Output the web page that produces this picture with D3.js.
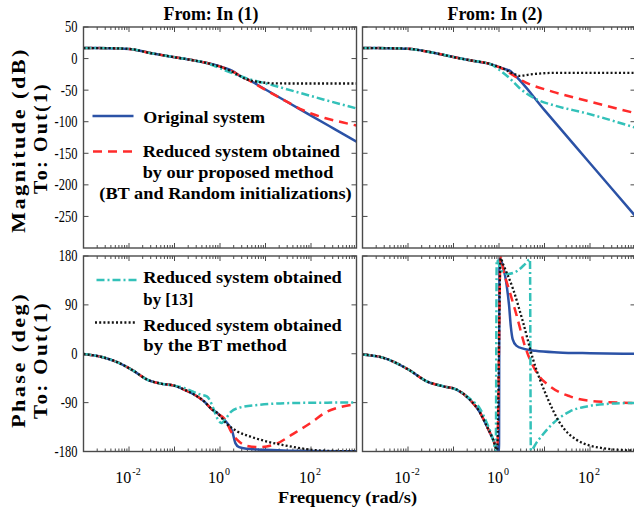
<!DOCTYPE html>
<html>
<head>
<meta charset="utf-8">
<script src="https://cdn.jsdelivr.net/npm/d3@7"></script>
<style>
body { margin: 0; background: #fff; }
text { font-family: "Liberation Serif", "DejaVu Serif", serif; }
</style>
</head>
<body>
<div id="chart-area"></div>
<script>
// ---- data: [frequency (rad/s), value] ----
// magnitude (dB), From In(1)
let magOrig1 = [[0.001,16.7],[0.0032,16.5],[0.01,15.3],[0.029,8.9],[0.093,2.5],[0.257,-2.7],[0.708,-9.5],
  [1.122,-13.6],[1.585,-17.2],[1.995,-20.8],[2.82,-28],[3.98,-32.6],[10,-49],[31.6,-69.6],[100,-90.3],[316,-110.9],[1000,-131.5]];
let magRed1 = [[0.001,16.7],[0.0032,16.5],[0.01,15.3],[0.029,8.9],[0.093,2.5],[0.257,-2.7],[0.708,-9.5],
  [1.122,-14],[1.585,-18],[1.995,-21.5],[2.82,-27.5],[3.98,-33],[10,-49.5],[31.6,-69.5],[63.1,-81],[100,-87],[200,-94],[398,-99.5],[1000,-106]];
let magCyan1 = [[0.001,16.7],[0.0032,16.5],[0.01,15.3],[0.029,8.9],[0.093,2.5],[0.257,-2.7],[0.5,-7],
  [0.851,-13.2],[1.175,-17.4],[1.95,-23.7],[3.89,-31.5],[6.46,-35.8],[15.8,-43],[34.7,-50],[186,-64.7],[1000,-79]];
let magBlack1 = [[0.001,16.7],[0.0032,16.5],[0.01,15.3],[0.029,8.9],[0.093,2.5],[0.257,-2.7],[0.708,-9.5],
  [1.122,-14],[1.995,-22],[3.89,-33],[8.91,-37.9],[17.8,-39.4],[100,-39.5],[1000,-39.5]];

// magnitude (dB), From In(2)
let magOrig2 = [[0.001,16.7],[0.0032,16.5],[0.01,15.5],[0.03,10.4],[0.083,3.6],[0.229,-2.7],[0.631,-8.5],
  [1.23,-15.8],[1.738,-19.5],[2.04,-23.7],[10,-81.7],[100,-165.7],[1000,-249.7]];
let magRed2 = [[0.001,16.7],[0.0032,16.5],[0.01,15.5],[0.03,10.4],[0.083,3.6],[0.229,-2.7],[0.631,-8.5],
  [1.23,-16.5],[2.04,-26.5],[3.39,-35.8],[15.5,-52.7],[85.1,-66.9],[1000,-86.5]];
let magCyan2 = [[0.001,16.7],[0.0032,16.5],[0.01,15.5],[0.03,10.4],[0.083,3.6],[0.229,-2.7],[0.631,-8.5],
  [1.047,-18.5],[1.738,-31.5],[2.88,-47.3],[6.76,-64.7],[15.5,-73.7],[85.1,-86.8],[1000,-109.5]];
let magBlack2 = [[0.001,16.7],[0.0032,16.5],[0.01,15.5],[0.03,10.4],[0.083,3.6],[0.229,-2.7],[0.631,-8.5],
  [1.23,-15.8],[2.04,-23.7],[2.88,-27.4],[4.79,-25.2],[15.5,-22.7],[100,-22.5],[1000,-22.5]];

// phase (deg), From In(1)
let phOrig1 = [[0.001,-0.5],[0.0024,-5.6],[0.0055,-15.5],[0.0129,-32],[0.025,-47.6],[0.05,-55],[0.098,-58.7],[0.162,-66],[0.269,-75],[0.447,-87.7],[0.676,-103],
  [0.871,-109],[1.445,-127.8],[1.862,-143],[2.19,-165],[2.63,-172],[3.98,-175],[10,-177],[31.6,-178.5],[1000,-179.5]];
let phRed1 = [[0.001,-0.5],[0.0024,-5.6],[0.0055,-15.5],[0.0129,-32],[0.025,-47.6],[0.05,-55],[0.098,-58.7],[0.162,-66],[0.269,-75],[0.447,-87.7],[0.676,-103],
  [0.871,-110],[1.318,-122],[1.738,-143],[2.4,-158.7],[3.98,-169.8],[7.59,-172],[18.2,-165],[39.8,-148],[100,-127],[200,-109],[501,-97],[1000,-93]];
let phCyan1 = [[0.001,-0.5],[0.0024,-5.6],[0.0055,-15.5],[0.0129,-32],[0.025,-47.6],[0.05,-55],[0.098,-58.7],
  [0.162,-63],[0.257,-70],[0.38,-75.4],[0.513,-78.5],[0.603,-86],[0.708,-100],[0.912,-122],[1.072,-127.5],[1.318,-120],[1.738,-107],[2.75,-99],[7.59,-94],[40.7,-90.7],[1000,-89.8]];
let phBlack1 = [[0.001,-0.5],[0.0024,-5.6],[0.0055,-15.5],[0.0129,-32],[0.025,-47.6],[0.05,-55],[0.098,-58.7],[0.162,-66],[0.269,-75],[0.447,-87.7],[0.676,-103],
  [0.871,-109],[1.445,-130],[2.4,-143],[4.68,-152.6],[11,-161.8],[25.7,-168.5],[58.9,-174],[195,-178.5],[1000,-179.5]];

// phase (deg), From In(2)
let phOrig2 = [[0.001,-1.3],[0.0029,-7.5],[0.0102,-29],[0.0257,-50.7],[0.06,-60],[0.117,-66],[0.229,-84.6],[0.38,-108],[0.537,-133],[0.741,-158],
  [0.93,-175],[1,-180],[1.023,175],[1.23,160],[1.479,125],[1.66,90],[1.82,50],[1.995,27],[2.4,15],[3.55,9],[6.31,5.5],[20,2.5],[100,1],[1000,0]];
let phRed2 = [[0.001,-1.3],[0.0029,-7.5],[0.0102,-29],[0.0257,-50.7],[0.06,-60],[0.117,-66],[0.229,-84.6],[0.38,-108],[0.537,-133],[0.741,-158],
  [0.912,-176],[1.084,178],[1.23,156],[1.738,113],[2.455,69.6],[3.72,14],[6.76,-35],[13.2,-60],[36.3,-78.5],[141,-87.8],[1000,-90.7]];
let phCyan2 = [[0.001,-1.3],[0.0029,-7.5],[0.0102,-29],[0.0257,-50.7],[0.06,-60],[0.117,-66],
  [0.229,-83],[0.38,-101],[0.537,-127],[0.741,-158],[0.851,-178],[0.891,173],[1.047,160],[1.23,150],[1.585,147],[2.455,152],[3.72,165],[4.79,174],
  [5.01,-178],[6.76,-163],[15.5,-128],[36.3,-106],[85.1,-97],[275,-92],[1000,-90.5]];
let phBlack2 = [[0.001,-1.3],[0.0029,-7.5],[0.0102,-29],[0.0257,-50.7],[0.06,-60],[0.117,-66],[0.229,-84.6],[0.38,-108],[0.537,-133],[0.741,-158],
  [0.912,-177],[1.084,176],[1.23,165],[2.04,119],[3.39,57.4],[5.62,-10.6],[11.2,-78.5],[21.9,-127.8],[51.3,-158.7],[195,-174],[1000,-178.5]];

let magTicks = [50, 0, -50, -100, -150, -200, -250];
let phTicks = [180, 90, 0, -90, -180];
let freqLabels = [1e-2, 1e0, 1e2];
let freqExp = ["-2", "0", "2"];
let titles = ["From: In (1)", "From: In (2)"];

// ---- drawing ----
let svg = d3.select("#chart-area").append("svg")
  .attr("width", 634)
  .attr("height", 510);

let frameColor = "#4a4a4a";
let colors = { orig: "#2b52a6", red: "#ff2b2b", cyan: "#33c1b9", black: "#141414" };
let dashes = { orig: null, red: "9,6", cyan: "8,3,2,3", black: "2,2.2" };

let xs = [
  d3.scaleLog().domain([1e-3, 1e3]).range([83.5, 356.5]),
  d3.scaleLog().domain([1e-3, 1e3]).range([362.5, 635.5])
];
let yMag = d3.scaleLinear().domain([-300, 50]).range([248, 27]);
let yPh = d3.scaleLinear().domain([-180, 180]).range([451.5, 256]);

let panels = [
  { c: 0, y: yMag, ticks: magTicks, series: { orig: magOrig1, red: magRed1, cyan: magCyan1, black: magBlack1 }, bottom: false },
  { c: 1, y: yMag, ticks: magTicks, series: { orig: magOrig2, red: magRed2, cyan: magCyan2, black: magBlack2 }, bottom: false },
  { c: 0, y: yPh, ticks: phTicks, series: { orig: phOrig1, red: phRed1, cyan: phCyan1, black: phBlack1 }, bottom: true },
  { c: 1, y: yPh, ticks: phTicks, series: { orig: phOrig2, red: phRed2, cyan: phCyan2, black: phBlack2 }, bottom: true }
];

function squeeze(sel, k) {
  sel.each(function () {
    let len = this.getComputedTextLength();
    d3.select(this).attr("textLength", len * k).attr("lengthAdjust", "spacingAndGlyphs");
  });
}

panels.forEach((p, i) => {
  let x = xs[p.c], y = p.y;
  let x0 = x.range()[0], x1 = x.range()[1], y0 = y.range()[1], y1 = y.range()[0];
  let g = svg.append("g");

  g.append("clipPath").attr("id", "clip" + i)
    .append("rect").attr("x", x0).attr("y", y0).attr("width", x1 - x0).attr("height", y1 - y0);

  // ticks (inside, all four sides)
  let allTicks = x.ticks();
  let major = allTicks.filter(d => Math.abs(Math.log10(d) - Math.round(Math.log10(d))) < 1e-6);
  let minor = allTicks.filter(d => major.indexOf(d) < 0);
  [[y1, -1], [y0, 1]].forEach(([yy, dir]) => {
    g.selectAll(null).data(minor).enter().append("line")
      .attr("x1", d => x(d)).attr("x2", d => x(d))
      .attr("y1", yy).attr("y2", yy + dir * 3)
      .attr("stroke", frameColor).attr("stroke-width", 1);
    g.selectAll(null).data(major).enter().append("line")
      .attr("x1", d => x(d)).attr("x2", d => x(d))
      .attr("y1", yy).attr("y2", yy + dir * 5)
      .attr("stroke", frameColor).attr("stroke-width", 1);
  });
  [[x0, 1], [x1, -1]].forEach(([xx, dir]) => {
    g.selectAll(null).data(p.ticks).enter().append("line")
      .attr("x1", xx).attr("x2", xx + dir * 5)
      .attr("y1", d => y(d)).attr("y2", d => y(d))
      .attr("stroke", frameColor).attr("stroke-width", 1);
  });

  // curves
  let line = d3.line()
    .x(d => x(d[0]))
    .y(d => y(d[1]))
    .curve(d3.curveMonotoneX);
  let lines = g.append("g").attr("clip-path", "url(#clip" + i + ")");
  ["orig", "red", "cyan", "black"].forEach(k => {
    lines.append("path")
      .datum(p.series[k])
      .attr("d", line)
      .attr("fill", "none")
      .attr("stroke", colors[k])
      .attr("stroke-width", k === "black" ? 2.3 : 2.5)
      .attr("stroke-dasharray", dashes[k]);
  });

  // frame
  g.append("rect")
    .attr("x", x0).attr("y", y0).attr("width", x1 - x0).attr("height", y1 - y0)
    .attr("fill", "none").attr("stroke", frameColor).attr("stroke-width", 1.4);

  // y tick labels on the left column only
  if (p.c === 0) {
    let lab = g.selectAll(null).data(p.ticks).enter().append("text")
      .attr("x", x0 - 6).attr("y", d => y(d))
      .attr("dy", "0.34em")
      .attr("text-anchor", "end")
      .attr("font-size", 16)
      .text(d => d);
    squeeze(lab, 0.78);
  }

  // x tick labels under the bottom row: 10 with a raised exponent
  if (p.bottom) {
    freqLabels.forEach((f, j) => {
      let t = g.append("text")
        .attr("x", x(f) - 1).attr("y", 483)
        .attr("text-anchor", "middle")
        .attr("font-size", 16);
      t.append("tspan").text("10");
      t.append("tspan").attr("dx", 1).attr("dy", -8).attr("font-size", 10).text(freqExp[j]);
    });
  }
});

// titles
titles.forEach((t, i) => {
  svg.append("text")
    .attr("x", i === 0 ? 211 : 495).attr("y", 19.5)
    .attr("text-anchor", "middle")
    .attr("font-size", 18).attr("font-weight", "bold")
    .attr("textLength", 95).attr("lengthAdjust", "spacingAndGlyphs")
    .text(t);
});

// axis labels
function rotLabel(str, x, y, len) {
  svg.append("text")
    .attr("transform", "translate(" + x + "," + y + ") rotate(-90)")
    .attr("text-anchor", "middle")
    .attr("font-size", 18).attr("font-weight", "bold")
    .attr("letter-spacing", 2)
    .attr("textLength", len).attr("lengthAdjust", "spacingAndGlyphs")
    .text(str);
}
rotLabel("Magnitude (dB)", 25, 140, 186);
rotLabel("To: Out(1)", 47, 138, 112);
rotLabel("Phase (deg)", 25, 360, 136);
rotLabel("To: Out(1)", 47, 360, 118);

svg.append("text")
  .attr("x", 347.5).attr("y", 502.5)
  .attr("text-anchor", "middle")
  .attr("font-size", 17).attr("font-weight", "bold")
  .attr("textLength", 139).attr("lengthAdjust", "spacingAndGlyphs")
  .text("Frequency (rad/s)");

// legends
let legendRows = [
  { k: "orig", ly: 116, x1: 92.5, x2: 133.5 },
  { k: "red", ly: 151.5, x1: 93, x2: 133.5 },
  { k: "cyan", ly: 280, x1: 96.5, x2: 137 },
  { k: "black", ly: 322.5, x1: 95, x2: 137 }
];
legendRows.forEach(r => {
  svg.append("line")
    .attr("x1", r.x1).attr("x2", r.x2).attr("y1", r.ly).attr("y2", r.ly)
    .attr("stroke", colors[r.k]).attr("stroke-width", 2.7)
    .attr("stroke-dasharray", dashes[r.k]);
});
let legendText = [
  ["Original system", 143.3, 122.5, 121.7],
  ["Reduced system obtained", 142.7, 157.3, 197.3],
  ["by our proposed method", 142.7, 178.2, 190.6],
  ["(BT and Random initializations)", 99.3, 199.3, 252.4],
  ["Reduced system obtained", 143.3, 283.3, 198.4],
  ["by [13]", 143.3, 305, 50],
  ["Reduced system obtained", 143.3, 330.5, 198.4],
  ["by the BT method", 143.3, 351, 143.4]
];
legendText.forEach(t => {
  svg.append("text")
    .attr("x", t[1]).attr("y", t[2])
    .attr("font-size", 17.5).attr("font-weight", "bold")
    .attr("textLength", t[3]).attr("lengthAdjust", "spacingAndGlyphs")
    .text(t[0]);
});
</script>
</body>
</html>
